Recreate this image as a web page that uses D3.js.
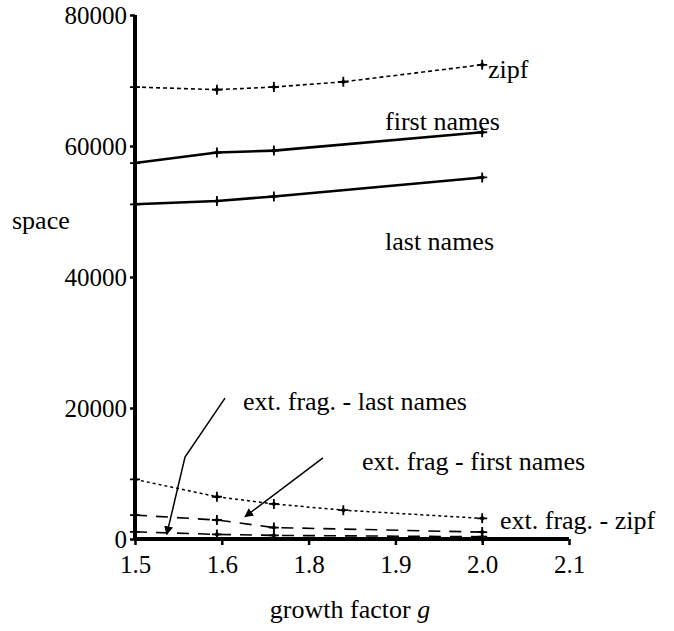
<!DOCTYPE html>
<html>
<head>
<meta charset="utf-8">
<script src="https://cdn.jsdelivr.net/npm/d3@7"></script>
<style>
  body { margin: 0; background: #fff; }
  svg text { font-family: "Liberation Serif", "DejaVu Serif", serif; fill: #000; }
</style>
</head>
<body>
<div id="chart"></div>
<script>
// x tick positions (the axis runs 1.5 .. 2.125 in steps of 0.125)
const xTicks = [1.5, 1.625, 1.75, 1.875, 2.0, 2.125];
const xTickLabels = ["1.5", "1.6", "1.8", "1.9", "2.0", "2.1"];
const yTicks = [0, 20000, 40000, 60000, 80000];

const gZipf = [1.5, 1.618, 1.7, 1.8, 2.0];
const gNames = [1.5, 1.618, 1.7, 2.0];

const zipf = [69000, 68600, 69000, 69800, 72400];
const firstNames = [57400, 59000, 59300, 62100];
const lastNames = [51100, 51600, 52300, 55200];
const extFragZipf = [9100, 6450, 5350, 4400, 3150];
const extFragFirst = [3650, 2900, 1750, 1050];
const extFragLast = [1100, 700, 550, 350];

const width = 674, height = 631;

var svg = d3.select("#chart")
  .append("svg")
  .attr("width", width)
  .attr("height", height);

var x = d3.scaleLinear().domain([1.5, 2.125]).range([135, 569]);
var y = d3.scaleLinear().domain([0, 80000]).range([539, 15]);

function pts(xs, ys) {
  return xs.map((g, i) => ({ g: g, v: ys[i] }));
}

var series = [
  { data: pts(gZipf, zipf), dash: "4,3", w: 1.6 },
  { data: pts(gNames, firstNames), dash: null, w: 2.6 },
  { data: pts(gNames, lastNames), dash: null, w: 2.6 },
  { data: pts(gZipf, extFragZipf), dash: "3,3", w: 1.5 },
  { data: pts(gNames, extFragFirst), dash: "12,9", w: 1.6 },
  { data: pts(gNames, extFragLast), dash: "12,9", w: 1.6 }
];

var line = d3.line().x((d) => x(d.g)).y((d) => y(d.v));

series.forEach(function (s) {
  svg.append("path")
    .datum(s.data)
    .attr("fill", "none")
    .attr("stroke", "#000")
    .attr("stroke-width", s.w)
    .attr("stroke-dasharray", s.dash)
    .attr("d", line);

  // plus-shaped markers
  var m = svg.selectAll(null)
    .data(s.data)
    .enter()
    .append("g")
    .attr("transform", (d) => "translate(" + x(d.g) + "," + y(d.v) + ")");
  m.append("path")
    .attr("d", "M-5,0H5M0,-5V5")
    .attr("stroke", "#000")
    .attr("stroke-width", 1.8);
  m.append("path")
    .attr("d", "M-2.8,0L0,-2.8L2.8,0L0,2.8Z")
    .attr("fill", "#000");
});

// axes
var xAxis = svg.append("g")
  .attr("transform", "translate(0," + y(0) + ")")
  .call(d3.axisBottom(x).tickValues(xTicks).tickSize(6)
    .tickFormat((d, i) => xTickLabels[i]));
xAxis.select(".domain").attr("stroke-width", 4).attr("d", "M" + x(1.5) + ",0H" + x(2.125));
xAxis.selectAll(".tick line").attr("stroke-width", 2.5);
xAxis.selectAll(".tick text")
  .attr("font-size", 25)
  .attr("font-family", "Liberation Serif")
  .attr("y", 16)
  .attr("dy", "0.71em");

var yAxis = svg.append("g")
  .attr("transform", "translate(" + x(1.5) + ",0)")
  .call(d3.axisLeft(y).tickValues(yTicks).tickSize(5).tickFormat(d3.format("d")));
yAxis.select(".domain").attr("stroke-width", 4).attr("d", "M0," + y(80000) + "V" + y(0));
yAxis.selectAll(".tick line").attr("stroke-width", 2.5);
yAxis.selectAll(".tick text")
  .attr("font-size", 25)
  .attr("font-family", "Liberation Serif")
  .attr("x", -8)
  .attr("dy", "0.32em");

// axis titles
svg.append("text").attr("x", 12).attr("y", 229).attr("font-size", 26).text("space");
var xt = svg.append("text").attr("x", 350).attr("y", 618)
  .attr("text-anchor", "middle").attr("font-size", 26);
xt.append("tspan").text("growth factor ");
xt.append("tspan").attr("font-style", "italic").text("g");

// series labels
var labels = [
  { t: "zipf", x: 488, y: 78 },
  { t: "first names", x: 385, y: 130 },
  { t: "last names", x: 385, y: 250 },
  { t: "ext. frag. - last names", x: 243, y: 410 },
  { t: "ext. frag - first names", x: 362, y: 470 },
  { t: "ext. frag. - zipf", x: 500, y: 529 }
];
svg.selectAll("text.lbl")
  .data(labels)
  .enter()
  .append("text")
  .attr("class", "lbl")
  .attr("x", (d) => d.x)
  .attr("y", (d) => d.y)
  .attr("font-size", 26)
  .text((d) => d.t);

// annotation arrows, in data coordinates
var arrows = [
  [[1.6296, 21500], [1.572, 12500], [1.5457, 700]],
  [[1.7707, 12400], [1.6584, 3400]]
];
svg.append("defs").append("marker")
  .attr("id", "head")
  .attr("viewBox", "0 0 10 10")
  .attr("refX", 9).attr("refY", 5)
  .attr("markerWidth", 9).attr("markerHeight", 9)
  .attr("markerUnits", "userSpaceOnUse")
  .attr("orient", "auto")
  .append("path")
  .attr("d", "M0,0L10,5L0,10Z")
  .attr("fill", "#000");

var aline = d3.line().x((d) => x(d[0])).y((d) => y(d[1]));
arrows.forEach(function (a) {
  svg.append("path")
    .attr("d", aline(a))
    .attr("fill", "none")
    .attr("stroke", "#000")
    .attr("stroke-width", 1.5)
    .attr("marker-end", "url(#head)");
});
</script>
</body>
</html>
